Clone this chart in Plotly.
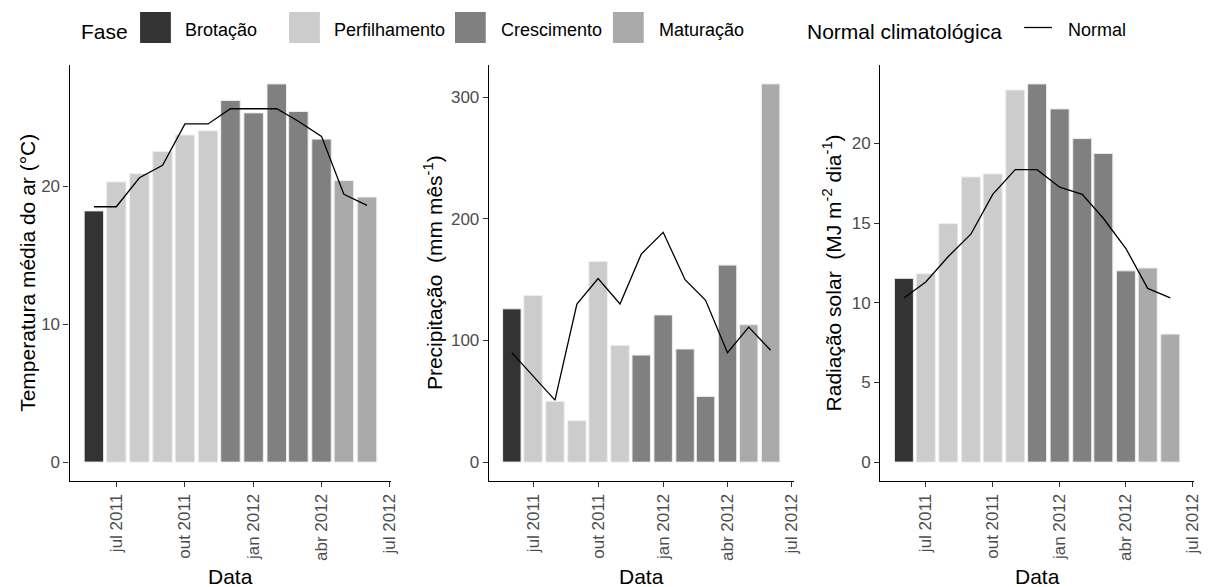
import plotly.graph_objects as go

# Monthly observations (bars) and climatological normals (lines)
months = ['2011-06-01', '2011-07-01', '2011-08-01', '2011-09-01', '2011-10-01',
          '2011-11-01', '2011-12-01', '2012-01-01', '2012-02-01', '2012-03-01',
          '2012-04-01', '2012-05-01', '2012-06-01']
fase = ['Brotação', 'Perfilhamento', 'Perfilhamento', 'Perfilhamento', 'Perfilhamento',
        'Perfilhamento', 'Crescimento', 'Crescimento', 'Crescimento', 'Crescimento',
        'Crescimento', 'Maturação', 'Maturação']

temperatura = [18.2, 20.3, 20.9, 22.5, 23.7, 24.0, 26.2, 25.3, 27.4, 25.4, 23.4, 20.4, 19.2]
temperatura_normal = [18.5, 18.5, 20.6, 21.5, 24.5, 24.5, 25.6, 25.6, 25.6, 24.7, 23.6, 19.4, 18.6]

precipitacao = [126, 137, 50, 34, 165, 96, 88, 121, 93, 54, 162, 113, 311]
precipitacao_normal = [90, 71, 51, 130, 151, 130, 171, 189, 150, 133, 90, 111, 92]

radiacao = [11.53, 11.82, 14.96, 17.89, 18.08, 23.35, 23.73, 22.16, 20.3, 19.37, 12.0, 12.18, 8.03]
radiacao_normal = [10.3, 11.3, 12.9, 14.3, 16.8, 18.35, 18.35, 17.25, 16.8, 15.3, 13.4, 10.9, 10.3]

fases = ['Brotação', 'Perfilhamento', 'Crescimento', 'Maturação']
cores = ['#333333', '#CCCCCC', '#808080', '#AAAAAA']

x_tickvals = ['2011-07-01', '2011-10-01', '2012-01-01', '2012-04-01', '2012-07-01']
x_ticktext = ['jul 2011', 'out 2011', 'jan 2012', 'abr 2012', 'jul 2012']

y_ticks = [[0, 10, 20], [0, 100, 200, 300], [0, 5, 10, 15, 20]]

W, H = 1210, 587
FONT = 'Liberation Sans, Arial, sans-serif'
TICK_SIZE = 17
TITLE_SIZE = 21
KEY_LABEL_SIZE = 18

cor_fase = dict(zip(fases, cores))
bar_colors = [cor_fase[f] for f in fase]
bar_width_ms = 0.9 * 29 * 86400000  # 90% of the shortest month gap

x_range = ['2011-04-29 08:24', '2012-07-03 15:36']
x_domains = [(70, 394), (492, 799), (886, 1202)]
y_top, y_bottom = 65, 481

series = [(temperatura, temperatura_normal),
          (precipitacao, precipitacao_normal),
          (radiacao, radiacao_normal)]

fig = go.Figure()
layout = dict(
    width=W, height=H,
    margin=dict(l=0, r=0, t=0, b=0),
    paper_bgcolor='white', plot_bgcolor='white',
    showlegend=False,
    font=dict(family=FONT, color='black'),
)

for i, (obs, normal) in enumerate(series):
    sfx = '' if i == 0 else str(i + 1)
    fig.add_trace(go.Bar(
        x=months, y=obs, width=bar_width_ms,
        marker=dict(color=bar_colors, line=dict(color='#EDEDED', width=1)),
        xaxis='x' + sfx, yaxis='y' + sfx, hoverinfo='x+y',
    ))
    fig.add_trace(go.Scatter(
        x=months, y=normal, mode='lines',
        line=dict(color='black', width=1.3),
        xaxis='x' + sfx, yaxis='y' + sfx,
    ))
    top = max(obs)
    x0, x1 = x_domains[i]
    layout['xaxis' + sfx] = dict(
        type='date', domain=[x0 / W, x1 / W], range=x_range,
        anchor='y' + sfx, tickmode='array', tickvals=x_tickvals, ticktext=x_ticktext,
        tickangle=-90, ticks='outside', ticklen=5, tickcolor='#333333',
        showline=True, linecolor='black', linewidth=1.1, showgrid=False, zeroline=False,
        tickfont=dict(family=FONT, size=TICK_SIZE, color='#4D4D4D'),
    )
    layout['yaxis' + sfx] = dict(
        domain=[1 - y_bottom / H, 1 - y_top / H], range=[-0.05 * top, 1.05 * top],
        anchor='x' + sfx, tickmode='array', tickvals=y_ticks[i],
        ticks='outside', ticklen=5, tickcolor='#333333',
        showline=True, linecolor='black', linewidth=1.1, showgrid=False, zeroline=False,
        tickfont=dict(family=FONT, size=TICK_SIZE, color='#4D4D4D'),
    )

fig.update_layout(**layout)

annotations = []
shapes = []

# Axis titles
y_titles = ['Temperatura média do ar (°C)',
            'Precipitação\u00a0 (mm mês<sup>-1</sup>)',
            'Radiação solar\u00a0 (MJ m<sup>-2</sup> dia<sup>-1</sup>)']
y_title_x = [27, 436, 838]
for i in range(3):
    annotations.append(dict(
        text=y_titles[i], x=y_title_x[i] / W, y=1 - (y_top + y_bottom) / 2 / H,
        xref='paper', yref='paper', textangle=-90, showarrow=False,
        xanchor='center', yanchor='middle',
        font=dict(family=FONT, size=TITLE_SIZE, color='black'),
    ))
    x0, x1 = x_domains[i]
    annotations.append(dict(
        text='Data', x=(x0 + x1) / 2 / W, y=1 - 576 / H,
        xref='paper', yref='paper', showarrow=False,
        xanchor='center', yanchor='middle',
        font=dict(family=FONT, size=TITLE_SIZE, color='black'),
    ))


def px(x):
    return x / W


def py(y):
    return 1 - y / H


# Legend along the top
annotations.append(dict(text='Fase', x=px(80), y=py(31), xref='paper', yref='paper',
                        showarrow=False, xanchor='left', yanchor='middle',
                        font=dict(family=FONT, size=TITLE_SIZE, color='black')))
key_x = [141, 291, 458, 617]
label_x = [184, 334, 502, 661]
for f, c, kx, lx in zip(fases, cores, key_x, label_x):
    shapes.append(dict(type='rect', xref='paper', yref='paper',
                       x0=px(kx), x1=px(kx + 31), y0=py(43), y1=py(12),
                       fillcolor=c, line=dict(width=0)))
    annotations.append(dict(text=f, x=px(lx), y=py(30), xref='paper', yref='paper',
                            showarrow=False, xanchor='left', yanchor='middle',
                            font=dict(family=FONT, size=KEY_LABEL_SIZE, color='black')))

annotations.append(dict(text='Normal climatológica', x=px(810), y=py(31), xref='paper',
                        yref='paper', showarrow=False, xanchor='left', yanchor='middle',
                        font=dict(family=FONT, size=TITLE_SIZE, color='black')))
shapes.append(dict(type='line', xref='paper', yref='paper',
                   x0=px(1031), x1=px(1059), y0=py(27.5), y1=py(27.5),
                   line=dict(color='black', width=1.3)))
annotations.append(dict(text='Normal', x=px(1073), y=py(30), xref='paper', yref='paper',
                        showarrow=False, xanchor='left', yanchor='middle',
                        font=dict(family=FONT, size=KEY_LABEL_SIZE, color='black')))

fig.update_layout(annotations=annotations, shapes=shapes)
fig.write_html('out.html')
